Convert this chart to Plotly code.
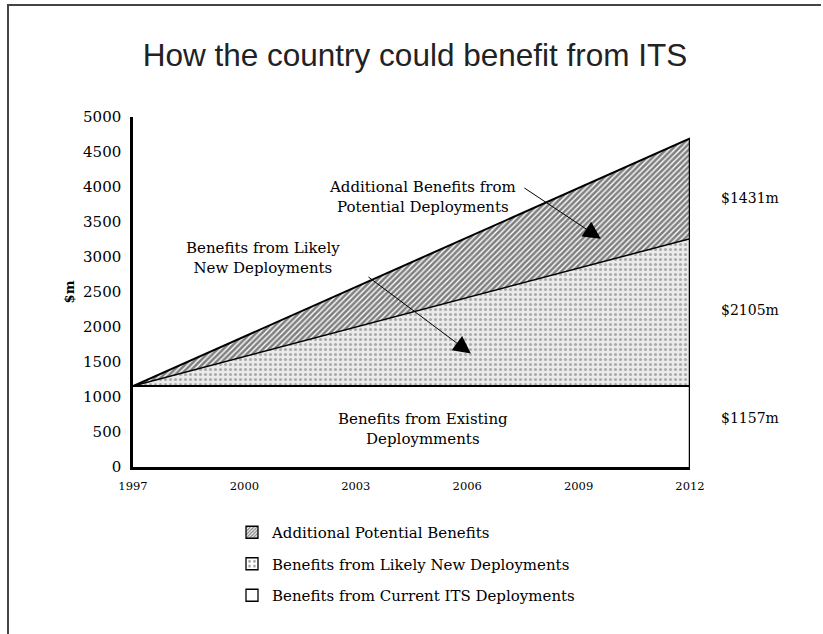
import plotly.graph_objects as go

# ---- data ----
years = [1997, 2012]
existing = [1157, 1157]          # Benefits from current ITS deployments
likely_new = [0, 2105]           # Benefits from likely new deployments
additional = [0, 1431]           # Additional potential benefits
x_ticks = [1997, 2000, 2003, 2006, 2009, 2012]
y_ticks = [0, 500, 1000, 1500, 2000, 2500, 3000, 3500, 4000, 4500, 5000]
right_labels = ["$1431m", "$2105m", "$1157m"]
legend_names = ["Additional Potential Benefits",
                "Benefits from Likely New Deployments",
                "Benefits from Current ITS Deployments"]

W, H = 823, 634
L, R, T, B = 133, 133, 117, 167
PW, PH = W - L - R, H - T - B

def px_x(px):
    return (px - L) / PW

def px_y(py):
    return (H - B - py) / PH

lvl1 = existing
lvl2 = [a + b for a, b in zip(lvl1, likely_new)]
lvl3 = [a + b for a, b in zip(lvl2, additional)]

SERIF = "DejaVu Serif"

fig = go.Figure()

fig.add_trace(go.Scatter(
    x=years, y=lvl1, mode="lines", fill="tozeroy", fillcolor="white",
    line=dict(color="black", width=2), showlegend=False, hoverinfo="skip"))
fig.add_trace(go.Scatter(
    x=years, y=lvl2, mode="lines", fill="tonexty",
    fillpattern=dict(shape=".", fgcolor="#6a6a6a", bgcolor="#ebebeb", size=5, solidity=0.3),
    line=dict(color="black", width=1.5), showlegend=False, hoverinfo="skip"))
fig.add_trace(go.Scatter(
    x=years, y=lvl3, mode="lines", fill="tonexty",
    fillpattern=dict(shape="/", fgcolor="black", bgcolor="white", size=4, solidity=0.65),
    line=dict(color="black", width=2), showlegend=False, hoverinfo="skip"))

# legend swatches (zero-height bars), listed top to bottom
legend_patterns = [
    dict(shape="/", fgcolor="black", bgcolor="white", size=3, solidity=0.55),
    dict(shape=".", fgcolor="#444", bgcolor="white", size=6, solidity=0.25),
    dict(shape="", fgcolor="black", bgcolor="white"),
]
for i, (name, pat) in enumerate(zip(legend_names, legend_patterns)):
    fig.add_trace(go.Bar(
        x=[years[0]], y=[0], name=name, legendgroup=f"g{i}",
        marker=dict(color="white", pattern=pat, line=dict(color="black", width=1.3)),
        hoverinfo="skip"))

# right-edge vertical boundary
fig.add_shape(type="line", x0=years[-1], x1=years[-1], y0=0, y1=lvl3[-1],
              line=dict(color="black", width=2.5))

# frame lines around the picture
fig.add_shape(type="line", xref="paper", yref="paper",
              x0=px_x(7), x1=px_x(821), y0=px_y(5), y1=px_y(5),
              line=dict(color="#444", width=2))
fig.add_shape(type="line", xref="paper", yref="paper",
              x0=px_x(8), x1=px_x(8), y0=px_y(5), y1=px_y(634),
              line=dict(color="#444", width=2))

afont = dict(family=SERIF, size=15, color="black")
fig.add_annotation(x=2004.8, y=3860, text="Additional Benefits from<br>Potential Deployments",
                   showarrow=False, font=afont, xanchor="center", yanchor="middle")
fig.add_annotation(x=2000.5, y=2990, text="Benefits from Likely<br>New Deployments",
                   showarrow=False, font=afont, xanchor="center", yanchor="middle")
fig.add_annotation(x=2004.8, y=540, text="Benefits from Existing<br>Deploymments",
                   showarrow=False, font=afont, xanchor="center", yanchor="middle")

# arrows
fig.add_annotation(x=2009.6, y=3260, ax=2007.5, ay=4000, axref="x", ayref="y",
                   text="", showarrow=True, arrowhead=2, arrowsize=3.5, arrowwidth=1,
                   arrowcolor="black")
fig.add_annotation(x=2006.1, y=1620, ax=2003.3, ay=2730, axref="x", ayref="y",
                   text="", showarrow=True, arrowhead=2, arrowsize=3.5, arrowwidth=1,
                   arrowcolor="black")

# right-side value labels
right_y = [3843, 2243, 700]
for lab, yv in zip(right_labels, right_y):
    fig.add_annotation(x=years[-1], y=yv, text=lab, showarrow=False, xshift=60,
                       font=dict(family=SERIF, size=14, color="black"),
                       xanchor="center", yanchor="middle")

fig.update_layout(
    width=W, height=H,
    margin=dict(l=L, r=R, t=T, b=B, pad=0),
    paper_bgcolor="white", plot_bgcolor="white",
    title=dict(text="How the country could benefit from ITS",
               font=dict(family="Liberation Sans, Arial, sans-serif", size=31.5, color="#222"),
               x=415 / W, xanchor="center", xref="container",
               y=1 - 55 / H, yanchor="middle", yref="container"),
    showlegend=True,
    legend=dict(traceorder="grouped", tracegroupgap=9,
                x=px_x(232), xanchor="left", y=px_y(516), yanchor="top",
                font=dict(family=SERIF, size=15, color="black"),
                bgcolor="rgba(0,0,0,0)", borderwidth=0),
    barmode="overlay",
)

fig.update_xaxes(range=[years[0], years[-1]], tickvals=x_ticks,
                 ticktext=[str(v) for v in x_ticks],
                 showgrid=False, zeroline=False, showline=True, linecolor="black", linewidth=2.5,
                 ticks="", ticklabelstandoff=6,
                 tickfont=dict(family=SERIF, size=11.5, color="black"))
fig.update_yaxes(range=[0, 5000], tickvals=y_ticks,
                 showgrid=False, zeroline=False, showline=True, linecolor="black", linewidth=2.5,
                 ticks="", ticklabelstandoff=6,
                 tickfont=dict(family=SERIF, size=15, color="black"),
                 title=dict(text="<b>$m</b>", standoff=6,
                            font=dict(family=SERIF, size=13, color="black")))

fig.write_html("out.html")
